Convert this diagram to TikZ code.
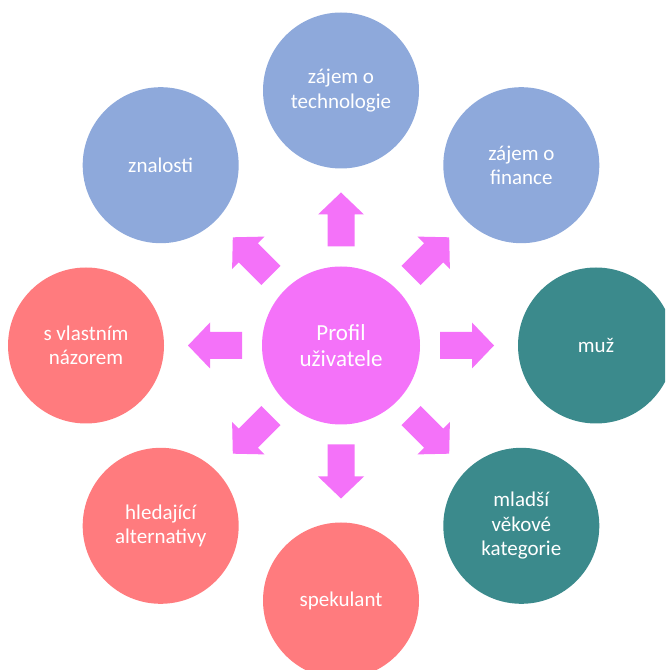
\documentclass[tikz,border=0pt]{standalone}
\usepackage{fontspec}
\setmainfont{Carlito}
\usetikzlibrary{calc}
\definecolor{cblue}{HTML}{8EA9DB}
\definecolor{cteal}{HTML}{3B8A8C}
\definecolor{csalmon}{HTML}{FF7B7E}
\definecolor{cmag}{HTML}{F472F9}
\tikzset{
  outer/.style={circle, minimum size=156pt, inner sep=0pt, text=white, align=center, font=\fontsize{21}{24.5}\selectfont},
  hub/.style={circle, fill=cmag, minimum size=158pt, inner sep=0pt, text=white, align=center, font=\fontsize{23}{26}\selectfont},
  blockarrow/.style={fill=cmag}
}
\begin{document}
\begin{tikzpicture}[x=1pt,y=1pt]
\useasboundingbox (0,0) rectangle (665,670);
\clip (0,0) rectangle (665,670);
\coordinate (C) at (341,324.5);
\node[hub] (c) at (C) {Profil\\uživatele};
\node[outer, fill=cblue]   (n90)  at ($(C)+(90:255)$)  {zájem o\\technologie};
\node[outer, fill=cblue]   (n45)  at ($(C)+(45:255)$)  {zájem o\\finance};
\node[outer, fill=cteal]   (n0)   at ($(C)+(0:255)$)   {muž};
\node[outer, fill=cteal]   (n315) at ($(C)+(-45:255)$) {mladší\\věkové\\kategorie};
\node[outer, fill=csalmon] (n270) at ($(C)+(-90:255)$) {spekulant};
\node[outer, fill=csalmon] (n225) at ($(C)+(-135:255)$) {hledající\\alternativy};
\node[outer, fill=csalmon] (n180) at ($(C)+(180:255)$) {s vlastním\\názorem};
\node[outer, fill=cblue]   (n135) at ($(C)+(135:255)$) {znalosti};
\foreach \a in {0,45,...,315}{
  \fill[blockarrow, shift={(c.center)}, rotate=\a]
    (99,-13.5) -- (131,-13.5) -- (131,-23) -- (153,0) -- (131,23) -- (131,13.5) -- (99,13.5) -- cycle;
}
\end{tikzpicture}
\end{document}
